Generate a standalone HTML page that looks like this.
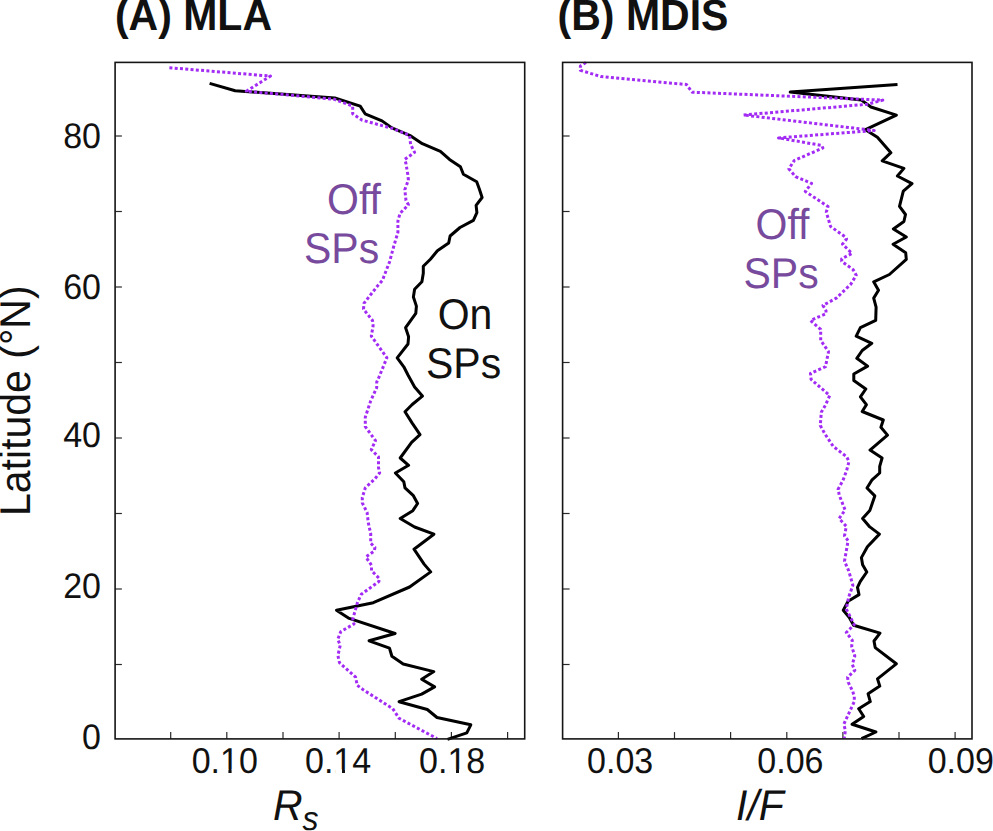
<!DOCTYPE html>
<html><head><meta charset="utf-8"><style>
html,body{margin:0;padding:0;background:#fff;}
body{width:993px;height:831px;overflow:hidden;position:relative;}
svg{position:absolute;left:0;top:0;}
text{font-family:"Liberation Sans",sans-serif;text-rendering:geometricPrecision;}
</style></head><body>
<svg width="993" height="831" viewBox="0 0 993 831">
<rect width="993" height="831" fill="#fff"/>
<g stroke="#2a2a2a" stroke-width="1.2" fill="none">
<line x1="115.1" y1="664.5" x2="121.9" y2="664.5"/>
<line x1="562.6" y1="664.5" x2="569.6" y2="664.5"/>
<line x1="115.1" y1="589.0" x2="121.9" y2="589.0"/>
<line x1="562.6" y1="589.0" x2="569.6" y2="589.0"/>
<line x1="115.1" y1="513.5" x2="121.9" y2="513.5"/>
<line x1="562.6" y1="513.5" x2="569.6" y2="513.5"/>
<line x1="115.1" y1="438.0" x2="121.9" y2="438.0"/>
<line x1="562.6" y1="438.0" x2="569.6" y2="438.0"/>
<line x1="115.1" y1="362.5" x2="121.9" y2="362.5"/>
<line x1="562.6" y1="362.5" x2="569.6" y2="362.5"/>
<line x1="115.1" y1="287.0" x2="121.9" y2="287.0"/>
<line x1="562.6" y1="287.0" x2="569.6" y2="287.0"/>
<line x1="115.1" y1="211.5" x2="121.9" y2="211.5"/>
<line x1="562.6" y1="211.5" x2="569.6" y2="211.5"/>
<line x1="115.1" y1="136.0" x2="121.9" y2="136.0"/>
<line x1="562.6" y1="136.0" x2="569.6" y2="136.0"/>
<line x1="170.7" y1="738.9" x2="170.7" y2="732.1"/>
<line x1="226.8" y1="738.9" x2="226.8" y2="732.1"/>
<line x1="283.0" y1="738.9" x2="283.0" y2="732.1"/>
<line x1="339.1" y1="738.9" x2="339.1" y2="732.1"/>
<line x1="395.3" y1="738.9" x2="395.3" y2="732.1"/>
<line x1="451.4" y1="738.9" x2="451.4" y2="732.1"/>
<line x1="507.6" y1="738.9" x2="507.6" y2="732.1"/>
<line x1="618.4" y1="738.9" x2="618.4" y2="732.1"/>
<line x1="674.5" y1="738.9" x2="674.5" y2="732.1"/>
<line x1="730.6" y1="738.9" x2="730.6" y2="732.1"/>
<line x1="786.8" y1="738.9" x2="786.8" y2="732.1"/>
<line x1="842.9" y1="738.9" x2="842.9" y2="732.1"/>
<line x1="899.0" y1="738.9" x2="899.0" y2="732.1"/>
<line x1="955.1" y1="738.9" x2="955.1" y2="732.1"/>
</g>
<g fill="none" stroke-linejoin="round">
<path d="M209.6,83.4 L235.2,90.7 L245.3,91.4 L334.8,98.0 L360.2,106.1 L365.1,113.8 L382.0,120.9 L391.9,127.9 L410.8,135.9 L422.3,143.7 L440.4,151.3 L449.5,159.4 L460.4,166.7 L463.4,174.3 L476.7,181.8 L479.5,189.5 L482.1,197.5 L476.1,205.4 L476.9,212.7 L473.4,220.4 L460.0,227.5 L450.1,236.0 L448.7,243.0 L437.4,250.8 L430.4,259.2 L423.3,266.3 L423.3,273.3 L421.9,281.8 L414.6,289.2 L413.4,297.0 L416.4,306.1 L415.8,313.3 L405.6,327.7 L408.6,336.7 L408.0,344.0 L397.2,357.8 L403.8,366.8 L408.0,375.0 L414.6,387.0 L422.4,396.1 L412.2,404.5 L405.0,411.7 L412.2,423.1 L420.0,434.6 L411.6,442.4 L400.2,458.0 L408.6,465.3 L395.4,473.0 L403.8,481.8 L405.0,487.9 L413.4,495.7 L417.6,503.5 L412.8,510.7 L400.2,518.5 L414.6,527.0 L433.9,534.2 L414.0,549.2 L424.1,564.1 L430.7,571.9 L409.6,587.0 L373.3,602.7 L336.5,610.3 L349.2,618.4 L395.1,633.5 L369.1,640.8 L389.5,648.2 L391.9,656.3 L403.2,664.0 L433.8,671.6 L421.7,679.2 L434.6,686.9 L421.7,694.1 L399.1,701.7 L427.3,709.5 L437.0,717.5 L470.8,724.8 L466.8,732.8 L447.5,739.3" stroke="#000" stroke-width="3"/>
<path d="M897.5,84.5 L790.2,92.1 L861.2,99.9 L870.9,107.0 L896.4,115.1 L865.5,129.7 L877.4,137.3 L890.9,152.7 L882.2,160.8 L903.9,168.4 L897.4,176.0 L912.0,183.6 L903.3,191.2 L899.5,206.3 L905.5,214.5 L903.9,221.5 L893.4,229.0 L906.3,237.0 L893.1,244.3 L905.7,252.8 L906.3,259.4 L889.4,274.5 L873.7,281.8 L878.5,290.3 L873.7,298.1 L876.1,307.2 L875.7,320.4 L860.4,327.6 L856.2,336.1 L871.8,343.3 L862.2,350.5 L856.8,358.3 L867.6,366.1 L853.8,374.0 L853.8,380.6 L865.8,389.0 L860.4,396.8 L866.4,404.7 L862.2,411.5 L883.3,420.0 L880.9,427.3 L887.5,435.1 L870.0,450.1 L882.1,458.0 L879.7,466.4 L879.7,473.0 L871.8,480.2 L867.0,488.0 L874.8,495.9 L869.8,510.6 L862.6,518.5 L869.8,526.9 L879.4,534.1 L867.4,546.7 L861.4,557.6 L862.6,564.8 L866.8,572.0 L860.2,581.6 L857.5,587.4 L859.0,594.6 L848.1,601.2 L843.3,610.3 L849.3,617.5 L853.6,625.3 L880.0,633.1 L874.0,641.0 L875.2,647.6 L896.3,663.8 L877.5,678.9 L879.8,686.1 L868.1,693.8 L870.3,701.6 L858.7,708.8 L863.7,716.5 L852.1,724.3 L875.9,732.0 L861.5,738.7" stroke="#000" stroke-width="3"/>
<path d="M169.4,67.7 L270.5,76.1 L246.3,91.2 L334.0,99.2 L352.7,106.1 L352.7,113.7 L362.2,120.2 L392.4,128.4 L409.6,135.3 L410.6,144.4 L414.6,152.4 L404.8,159.4 L406.0,163.7 L407.8,174.5 L408.4,180.0 L404.8,189.7 L405.4,195.1 L406.0,200.5 L408.4,204.8 L400.0,213.4 L397.9,221.1 L397.9,232.4 L393.7,246.5 L389.5,262.0 L382.4,280.4 L377.3,286.2 L364.1,303.1 L363.5,309.1 L372.5,320.5 L373.1,325.9 L371.3,336.1 L386.9,357.8 L379.1,376.8 L376.7,382.2 L376.7,387.6 L370.7,400.9 L365.3,417.1 L365.3,426.7 L375.5,440.6 L371.3,449.6 L378.5,456.8 L378.5,467.7 L379.7,472.8 L374.9,478.8 L365.3,487.9 L362.3,497.5 L362.3,502.9 L367.1,512.5 L368.3,522.8 L370.7,533.6 L370.7,543.2 L374.9,547.4 L374.3,551.0 L365.9,557.0 L371.5,565.3 L371.5,570.7 L379.4,578.6 L378.8,581.6 L361.3,594.3 L357.6,602.1 L352.8,619.0 L354.0,623.9 L340.7,631.7 L337.7,639.6 L340.3,645.0 L337.9,655.5 L339.5,662.7 L355.6,677.2 L357.2,685.3 L363.7,690.1 L392.7,708.6 L399.1,718.3 L437.0,738.5" stroke="#a32cf4" stroke-width="3" stroke-dasharray="3 2.3"/>
<path d="M586.0,62.5 L580.4,66.0 L580.4,70.3 L601.0,76.6 L686.4,84.5 L692.2,92.2 L882.8,100.1 L867.7,104.2 L743.6,115.0 L874.2,130.5 L778.5,137.9 L822.0,145.5 L822.8,148.0 L794.2,160.5 L788.9,168.9 L795.5,176.6 L811.6,183.4 L805.3,191.4 L828.0,206.6 L826.3,212.0 L830.5,226.4 L845.7,237.3 L846.5,239.0 L842.5,244.2 L852.0,253.4 L841.7,258.8 L841.7,261.3 L853.2,269.7 L856.2,275.2 L850.8,284.2 L836.3,298.1 L823.0,305.4 L826.0,310.8 L826.0,313.8 L810.5,320.4 L820.7,329.4 L820.7,340.3 L828.5,351.7 L825.5,366.7 L810.5,373.4 L811.1,379.4 L829.7,395.6 L825.5,405.0 L821.3,412.2 L820.3,425.5 L824.9,433.9 L833.3,446.5 L846.6,456.7 L849.0,461.6 L846.6,470.6 L843.0,480.2 L838.1,489.2 L839.3,495.3 L845.1,510.0 L839.1,518.5 L846.3,526.3 L844.5,535.9 L848.1,540.7 L844.5,561.2 L848.7,570.8 L852.9,585.3 L848.7,597.0 L846.3,609.1 L854.2,624.7 L846.3,632.5 L852.3,640.4 L851.7,646.4 L854.8,656.0 L852.3,664.4 L854.8,670.4 L847.6,677.2 L848.2,682.2 L852.6,691.0 L854.3,696.6 L854.3,701.6 L850.4,709.9 L843.8,724.3 L845.4,730.4 L844.3,738.0" stroke="#a32cf4" stroke-width="3" stroke-dasharray="3 2.3"/>
</g>
<g fill="none" stroke="#151515" stroke-width="1.6">
<rect x="115.1" y="62.4" width="409.6" height="676.5"/>
<rect x="562.6" y="62.4" width="409.4" height="676.5"/>
</g>
<text transform="translate(114.9,29.6) scale(1,1.06)" font-size="41" fill="#111" font-weight="bold">(A) MLA</text>
<text transform="translate(557.6,29.6) scale(1,1.06)" font-size="41" fill="#111" font-weight="bold">(B) MDIS</text>
<text transform="translate(101,147.55) scale(1,1.045)" font-size="34" fill="#111" text-anchor="end">80</text>
<text transform="translate(101,299.35) scale(1,1.045)" font-size="34" fill="#111" text-anchor="end">60</text>
<text transform="translate(101,446.75) scale(1,1.045)" font-size="34" fill="#111" text-anchor="end">40</text>
<text transform="translate(101,598.25) scale(1,1.045)" font-size="34" fill="#111" text-anchor="end">20</text>
<text transform="translate(101,749.45) scale(1,1.045)" font-size="34" fill="#111" text-anchor="end">0</text>
<text transform="translate(191.71,773.15) scale(1,1.058)" font-size="34" fill="#111">0.10</text>
<text transform="translate(305.01,773.15) scale(1,1.058)" font-size="34" fill="#111">0.14</text>
<text transform="translate(419.11,773.15) scale(1,1.058)" font-size="34" fill="#111">0.18</text>
<text transform="translate(587.11,773.15) scale(1,1.058)" font-size="34" fill="#111">0.03</text>
<text transform="translate(757.31,773.15) scale(1,1.058)" font-size="34" fill="#111">0.06</text>
<text transform="translate(927.71,773.15) scale(1,1.058)" font-size="34" fill="#111">0.09</text>
<text transform="translate(30,400.7) rotate(-90) scale(1,1.05)" font-size="41" fill="#111" text-anchor="middle">Latitude (°N)</text>
<text transform="translate(273,819.5) scale(1,1.05)" font-size="41" fill="#111" font-style="italic">R<tspan font-size="32" dy="10.4">s</tspan></text>
<text transform="translate(736,819.5) scale(1,1.05)" font-size="41" fill="#111" font-style="italic">I/F</text>
<text transform="translate(327,213.8) scale(1,1.05)" font-size="41" fill="#774a9d">Off</text>
<text transform="translate(304,263) scale(1,1.05)" font-size="41" fill="#774a9d">SPs</text>
<text transform="translate(755.5,239) scale(1,1.05)" font-size="41" fill="#774a9d">Off</text>
<text transform="translate(743.5,288.3) scale(1,1.05)" font-size="41" fill="#774a9d">SPs</text>
<text transform="translate(437.7,328.6) scale(1,1.05)" font-size="41" fill="#111">On</text>
<text transform="translate(426,377.5) scale(1,1.05)" font-size="41" fill="#111">SPs</text>
<g fill="#fff"><rect x="221.3" y="769.4" width="7.1" height="4.2"/><rect x="231.6" y="769.4" width="7.0" height="4.2"/><rect x="335.3" y="769.4" width="6.7" height="4.2"/><rect x="345.0" y="769.4" width="6.6" height="4.2"/><rect x="449.3" y="769.4" width="6.7" height="4.2"/><rect x="459.0" y="769.4" width="6.7" height="4.2"/></g>
</svg>
</body></html>
